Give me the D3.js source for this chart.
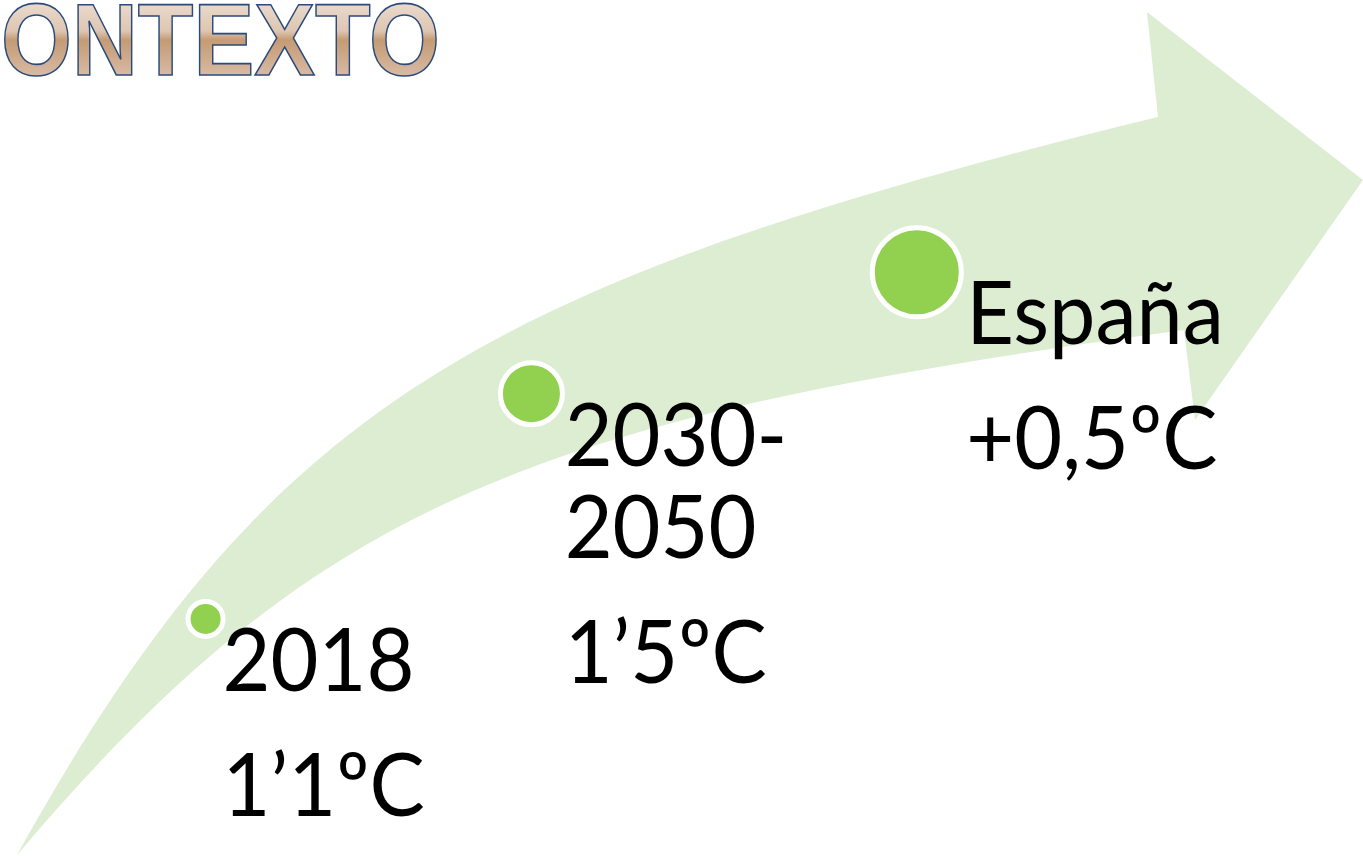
<!DOCTYPE html>
<html>
<head>
<meta charset="utf-8">
<script src="https://cdn.jsdelivr.net/npm/d3@7"></script>
<style>
  html, body { margin: 0; background: #fff; overflow: hidden; }
</style>
</head>
<body>
<div id="chart"></div>
<script>
// Data
const title = "ONTEXTO";
const stages = ["2018", "2030-2050", "España"];
const warming = ["1’1ºC", "1’5ºC", "+0,5ºC"];
const stageRank = [0, 1, 2];
const progress = [0.233, 0.578, 0.86]; // position of each stage along the arrow (0 = tail, 1 = head)

// Layout
const width = 1363;
const height = 856;

// arrow outline: tail, upper edge, head, lower edge
const tail = [17, 855];
const upper = [[267, 405], [480, 283], [1158, 117]];
const lower = [[316, 502], [532, 418], [1184, 330]];
const head = [[1147, 12], [1363, 180], [1195, 420]];

const svg = d3.select("#chart")
  .append("svg")
  .attr("width", width)
  .attr("height", height);

// Title gradient
const defs = svg.append("defs");
const grad = defs.append("linearGradient")
  .attr("id", "titleFill")
  .attr("x1", 0).attr("y1", 0).attr("x2", 0).attr("y2", 1);
[
  [0, "#f2e8e1"],
  [0.42, "#dec6b2"],
  [0.5, "#c49b74"],
  [0.75, "#d4b49a"],
  [1, "#e4d0c0"]
].forEach(([o, c]) => grad.append("stop").attr("offset", o).attr("stop-color", c));

// Arrow shape
const p = d3.path();
p.moveTo(...tail);
p.bezierCurveTo(...upper[0], ...upper[1], ...upper[2]);
head.forEach(pt => p.lineTo(...pt));
p.lineTo(...lower[2]);
p.bezierCurveTo(...lower[1], ...lower[0], ...tail);
p.closePath();

svg.append("path")
  .attr("d", p.toString())
  .attr("fill", "#dcedd2");

// centre line of the arrow, used to place the stages
const mid = [0, 1, 2].map(i => [(upper[i][0] + lower[i][0]) / 2, (upper[i][1] + lower[i][1]) / 2]);
function along(t) {
  const u = 1 - t;
  const pts = [tail, mid[0], mid[1], mid[2]];
  const w = [u * u * u, 3 * u * u * t, 3 * u * t * t, t * t * t];
  return [d3.sum(pts, (q, i) => q[0] * w[i]), d3.sum(pts, (q, i) => q[1] * w[i])];
}

const radius = d3.scaleLinear().domain([0, 2]).range([15, 42]);
const ring = 5;

const nodes = stages.map((s, i) => {
  const [x, y] = along(progress[i]);
  return { stage: s, value: warming[i], x, y: y - stageRank[i] * 2, r: radius(stageRank[i]) };
});

// Markers
svg.append("g")
  .selectAll("circle")
  .data(nodes)
  .join("circle")
  .attr("cx", d => d.x)
  .attr("cy", d => d.y)
  .attr("r", d => d.r + ring / 2)
  .attr("fill", "#92d050")
  .attr("stroke", "#fff")
  .attr("stroke-width", ring);

// Labels
const lineGap = 92;
const paraGap = 125;

const label = svg.append("g")
  .selectAll("text")
  .data(nodes)
  .join("text")
  .attr("font-family", "Lato, 'Open Sans', sans-serif")
  .attr("font-size", 88)
  .attr("fill", "#000")
  .attr("transform", d => `translate(${d.x + d.r * 1.2 - 1},${d.y + 72}) scale(0.94,1)`);

label.each(function(d) {
  const t = d3.select(this);
  const lines = d.stage.split(/(?<=-)/);
  lines.forEach((ln, j) => {
    t.append("tspan").attr("x", 0).attr("y", j * lineGap).text(ln);
  });
  t.append("tspan")
    .attr("x", 0)
    .attr("y", (lines.length - 1) * lineGap + paraGap)
    .text(d.value);
});

// Title (cut at the left edge, as in the slide)
svg.append("text")
  .attr("x", 1)
  .attr("y", 75)
  .attr("font-family", "'Liberation Sans', Arial, sans-serif")
  .attr("font-weight", "bold")
  .attr("font-size", 102)
  .attr("textLength", 439)
  .attr("lengthAdjust", "spacingAndGlyphs")
  .attr("fill", "url(#titleFill)")
  .attr("stroke", "#2b4b7a")
  .attr("stroke-width", 1.6)
  .text(title);
</script>
</body>
</html>
